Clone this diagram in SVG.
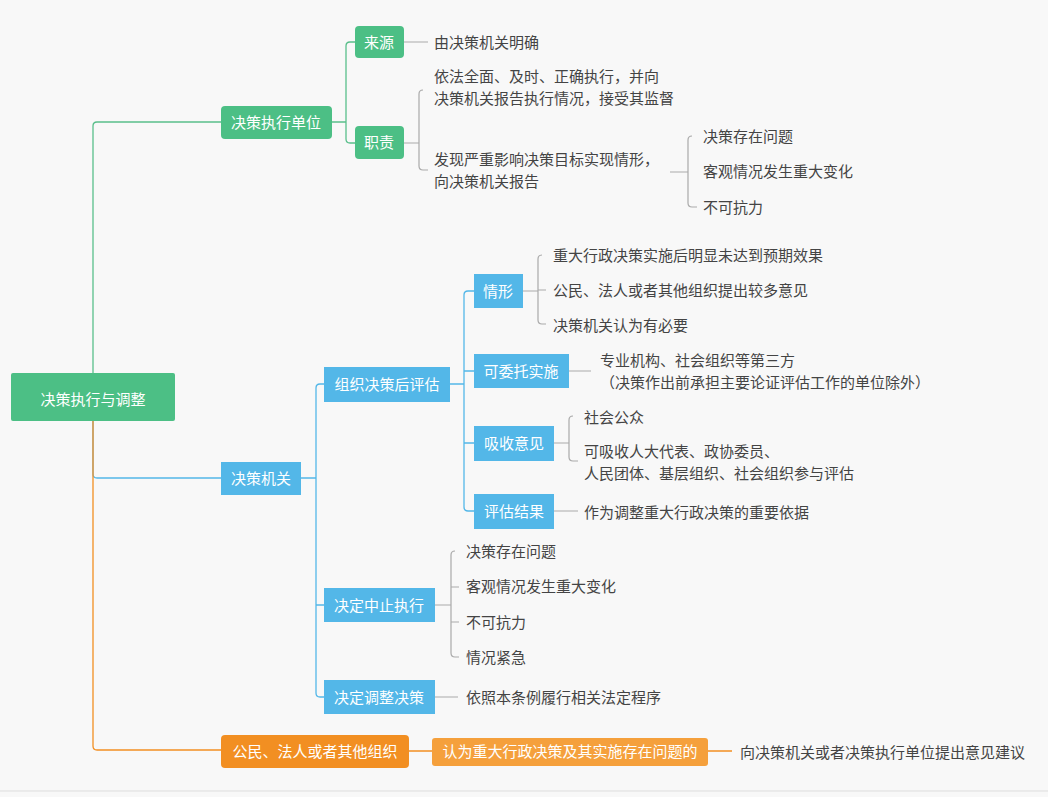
<svg xmlns="http://www.w3.org/2000/svg" width="1048" height="797" viewBox="0 0 1048 797">
<style>
text{font-family:"Noto Sans CJK SC","Liberation Sans",sans-serif;font-size:15px}
.w{fill:#fff}.t{fill:#444}
.g{fill:#4cbf85}.b{fill:#53b7e8}.o{fill:#f28f22}
.lg{stroke:#59bf8b;fill:none;stroke-width:1.3}.lb{stroke:#53b7e8;fill:none;stroke-width:1.3}.lo{stroke:#f28f22;fill:none;stroke-width:1.3}.lx{stroke:#aaa;fill:none;stroke-width:1.2}
</style>
<rect width="1048" height="797" fill="#f8f8f8"/>
<line x1="0" y1="791" x2="1048" y2="791" stroke="#ddd"/>
<g id="connectors">
<path class="lg" d="M93,373 V126 Q93,122 97,122 H221"/>
<path class="lg" d="M332,122 H346 M350,42 Q346,42 346,46 V139 Q346,143 350,143 H355 M350,42 H355"/>
<path class="lx" d="M404,42 H428 M404,143 H419 M423,90 Q419,90 419,94 V166 Q419,170 423,170 H428"/>
<path class="lx" d="M670,172 H688 M692,136 Q688,136 688,140 V203 Q688,207 692,207 H697"/>
<path class="lb" d="M93,421 V474 Q93,478 97,478 H221"/>
<path class="lb" d="M301,478 H316 M320,384 Q316,384 316,388 V693 Q316,697 320,697 H324 M320,384 H324 M316,605 H324"/>
<path class="lb" d="M450,384 H464 M468,291 Q464,291 464,295 V507 Q464,511 468,511 H474 M468,291 H474 M464,371 H474 M464,443 H474"/>
<path class="lx" d="M523,291 H538 M542,255 Q538,255 538,259 V320 Q538,324 542,324 H546 M538,290 H546"/>
<path class="lx" d="M569,371 H591 M554,443 H569 M573,416 Q569,416 569,420 V457 Q569,461 573,461 H578 M554,511 H578"/>
<path class="lx" d="M435,605 H451 M455,551 Q451,551 451,555 V653 Q451,657 455,657 H459 M451,587 H459 M451,622 H459 M435,697 H458"/>
<path class="lo" d="M93,421 V746 Q93,750 97,750 H221 M409,751 H432 M708,751 H732"/>
</g>
<g id="root"><rect x="11" y="373" width="164" height="48" rx="2" class="g"/><text x="93" y="405" class="w" font-size="20" text-anchor="middle">决策执行与调整</text></g>
<g id="n1"><rect x="221" y="106" width="111" height="33" rx="4" class="g"/><text x="276" y="128" class="w" text-anchor="middle">决策执行单位</text></g>
<g id="n1a"><rect x="355" y="26" width="49" height="32" rx="4" class="g"/><text x="379" y="48" class="w" text-anchor="middle">来源</text></g>
<g id="n1b"><rect x="355" y="126" width="49" height="33" rx="4" class="g"/><text x="379" y="148" class="w" text-anchor="middle">职责</text></g>
<g id="leaf1" class="t">
<text x="434" y="48" class="t">由决策机关明确</text>
<text x="434" y="82" class="t">依法全面、及时、正确执行，并向</text>
<text x="434" y="104" class="t">决策机关报告执行情况，接受其监督</text>
<text x="434" y="165" class="t">发现严重影响决策目标实现情形，</text>
<text x="434" y="187" class="t">向决策机关报告</text>
<text x="703" y="142" class="t">决策存在问题</text>
<text x="703" y="177" class="t">客观情况发生重大变化</text>
<text x="703" y="213" class="t">不可抗力</text>
</g>
<g id="n2"><rect x="221" y="462" width="80" height="33" class="b"/><text x="261" y="484" class="w" text-anchor="middle">决策机关</text></g>
<g id="n2a"><rect x="324" y="367" width="126" height="35" class="b"/><text x="387" y="390" class="w" text-anchor="middle">组织决策后评估</text></g>
<g id="n2a1"><rect x="474" y="274" width="49" height="34" class="b"/><text x="498" y="297" class="w" text-anchor="middle">情形</text></g>
<g id="n2a2"><rect x="474" y="354" width="95" height="34" class="b"/><text x="521" y="377" class="w" text-anchor="middle">可委托实施</text></g>
<g id="n2a3"><rect x="474" y="426" width="80" height="35" class="b"/><text x="514" y="449" class="w" text-anchor="middle">吸收意见</text></g>
<g id="n2a4"><rect x="474" y="494" width="80" height="35" class="b"/><text x="514" y="517" class="w" text-anchor="middle">评估结果</text></g>
<g id="n2b"><rect x="324" y="588" width="111" height="34" class="b"/><text x="379" y="611" class="w" text-anchor="middle">决定中止执行</text></g>
<g id="n2c"><rect x="324" y="680" width="111" height="34" class="b"/><text x="379" y="703" class="w" text-anchor="middle">决定调整决策</text></g>
<g id="leaf2">
<text x="553" y="261" class="t">重大行政决策实施后明显未达到预期效果</text>
<text x="553" y="296" class="t">公民、法人或者其他组织提出较多意见</text>
<text x="553" y="331" class="t">决策机关认为有必要</text>
<text x="600" y="366" class="t">专业机构、社会组织等第三方</text>
<text x="600" y="388" class="t">（决策作出前承担主要论证评估工作的单位除外）</text>
<text x="584" y="423" class="t">社会公众</text>
<text x="584" y="457" class="t">可吸收人大代表、政协委员、</text>
<text x="584" y="479" class="t">人民团体、基层组织、社会组织参与评估</text>
<text x="584" y="518" class="t">作为调整重大行政决策的重要依据</text>
<text x="466" y="557" class="t">决策存在问题</text>
<text x="466" y="592" class="t">客观情况发生重大变化</text>
<text x="466" y="628" class="t">不可抗力</text>
<text x="466" y="663" class="t">情况紧急</text>
<text x="466" y="703" class="t">依照本条例履行相关法定程序</text>
</g>
<g id="n3"><rect x="221" y="735" width="188" height="33" rx="4" class="o"/><text x="315" y="757" class="w" text-anchor="middle">公民、法人或者其他组织</text></g>
<g id="n3a"><rect x="432" y="738" width="276" height="28" rx="3" fill="#f5a03c"/><text x="570" y="757" class="w" text-anchor="middle">认为重大行政决策及其实施存在问题的</text></g>
<g id="n3b"><text x="740" y="758" class="t">向决策机关或者决策执行单位提出意见建议</text></g>
</svg>
